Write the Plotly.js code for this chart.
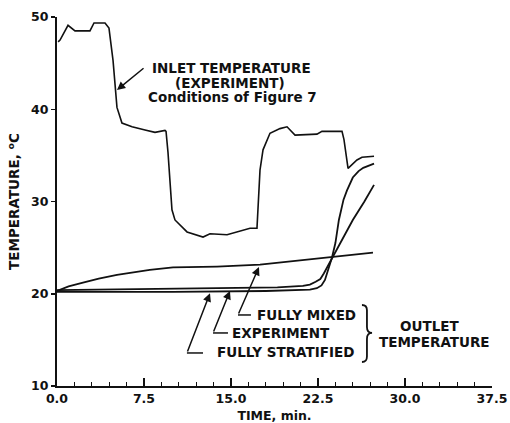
<!DOCTYPE html>
<html>
<head>
<meta charset="utf-8">
<script src="https://cdn.plot.ly/plotly-3.0.1.min.js"></script>
<style>html,body{margin:0;padding:0;background:#fff;}#chart{width:510px;height:423px;}</style>
</head>
<body>
<div id="chart"></div>
<script>
// Inlet temperature (experiment), time in min, temperature in °C
const inletTime = [0.1, 0.26, 0.95, 1.55, 2.84, 3.19, 4.14, 4.48, 4.83, 5.0, 5.17, 5.6, 6.47, 7.59, 8.45, 9.31, 9.4, 9.57, 9.91, 10.17, 10.86, 11.21, 12.59, 13.19, 14.66, 16.64, 17.24, 17.5, 17.76, 18.36, 19.22, 19.83, 20.52, 22.41, 22.84, 24.57, 24.74, 25.09, 25.86, 26.29, 27.33];
const inletTemp = [47.3, 47.5, 49.1, 48.5, 48.5, 49.35, 49.35, 48.8, 45.3, 42.4, 40.2, 38.5, 38.1, 37.75, 37.5, 37.7, 37.6, 35.3, 29.1, 28.0, 27.2, 26.7, 26.15, 26.5, 26.4, 27.1, 27.1, 33.4, 35.6, 37.4, 37.9, 38.1, 37.2, 37.3, 37.6, 37.6, 36.7, 33.6, 34.5, 34.8, 34.9];

// Outlet temperature, fully mixed model
const mixedTime = [0, 1.0, 2.24, 3.6, 5.17, 6.6, 8.0, 10.0, 13.79, 17.5, 20.5, 23.8, 27.24];
const mixedTemp = [20.3, 20.8, 21.2, 21.65, 22.05, 22.35, 22.6, 22.85, 22.95, 23.15, 23.55, 24.0, 24.45];

// Outlet temperature, experiment
const exptTime = [0, 7, 14, 19, 21.2, 21.8, 22.3, 22.7, 23.0, 23.3, 23.7, 24.5, 25.5, 26.5, 27.33];
const exptTemp = [20.4, 20.5, 20.6, 20.7, 20.85, 21.0, 21.3, 21.6, 22.2, 22.9, 23.9, 25.7, 28.0, 30.0, 31.8];

// Outlet temperature, fully stratified model
const stratTime = [0, 10, 18, 21.8, 22.4, 22.8, 23.1, 23.4, 23.7, 24.0, 24.3, 24.7, 25.0, 25.5, 26.0, 26.4, 27.33];
const stratTemp = [20.2, 20.2, 20.3, 20.45, 20.6, 20.9, 21.5, 22.6, 23.9, 25.5, 28.0, 30.2, 31.2, 32.6, 33.3, 33.65, 34.1];

const xTickVals = [0, 7.5, 15, 22.5, 30, 37.5];
const yTickVals = [10, 20, 30, 40, 50];

const FONT = "DejaVu Sans";
const blk = "#111";

function line(x, y, w) {
  return {x: x, y: y, type: "scatter", mode: "lines",
          line: {color: blk, width: w, shape: "linear"}, hoverinfo: "skip", showlegend: false};
}

const traces = [
  line(inletTime, inletTemp, 1.6),
  line(mixedTime, mixedTemp, 1.8),
  line(exptTime, exptTemp, 1.8),
  line(stratTime, stratTemp, 1.8)
];

function label(text, x, y, anchor) {
  return {text: text, x: x, y: y, xref: "x", yref: "y", showarrow: false,
          xanchor: anchor || "center", yanchor: "middle",
          font: {family: FONT, size: 13.5, color: blk, weight: "bold"}};
}
function arrow(hx, hy, tx, ty) {
  return {text: "", x: hx, y: hy, ax: tx, ay: ty, xref: "x", yref: "y", axref: "x", ayref: "y",
          showarrow: true, arrowhead: 2, arrowsize: 1.1, arrowwidth: 1.5, arrowcolor: blk, standoff: 0, startstandoff: 0};
}

const annotations = [
  label("INLET TEMPERATURE", 15.04, 44.47),
  label("(EXPERIMENT)", 14.91, 42.85),
  label("Conditions of Figure 7", 15.09, 41.33),
  label("FULLY MIXED", 17.07, 17.7, "left"),
  label("EXPERIMENT", 14.91, 15.75, "left"),
  label("FULLY STRATIFIED", 13.62, 13.69, "left"),
  label("OUTLET", 32.07, 16.5),
  label("TEMPERATURE", 32.5, 14.77),
  arrow(5.17, 42.09, 7.59, 44.58),
  arrow(17.41, 22.9, 15.6, 17.7),
  arrow(14.91, 20.3, 13.45, 15.75),
  arrow(13.19, 20.05, 11.2, 13.58)
];

function hook(x0, x1, y) {
  return {type: "line", xref: "x", yref: "y", x0: x0, x1: x1, y0: y, y1: y, line: {color: blk, width: 1.5}};
}
const shapes = [
  hook(15.6, 16.72, 17.7),
  hook(13.45, 14.74, 15.75),
  hook(11.2, 12.59, 13.58),
  {type: "path", xref: "x", yref: "y",
   path: "M 26.29,18.78 Q 26.72,18.78 26.72,18.2 L 26.72,16.4 Q 26.72,15.75 27.16,15.75 Q 26.72,15.75 26.72,15.1 L 26.72,13.2 Q 26.72,12.6 26.29,12.6",
   line: {color: blk, width: 1.8}}
];

const layout = {
  width: 510, height: 423,
  margin: {l: 57, r: 18, t: 17, b: 37},
  paper_bgcolor: "#fff", plot_bgcolor: "#fff",
  showlegend: false,
  xaxis: {
    range: [0, 37.5], tickvals: xTickVals, tickformat: ".1f",
    showgrid: false, zeroline: false, showline: true, linecolor: blk, linewidth: 2,
    ticks: "inside", ticklen: 8, tickwidth: 1.5, tickcolor: blk,
    minor: {dtick: 1.5, tick0: 0, ticks: "inside", ticklen: 4, tickwidth: 1.2, tickcolor: blk, showgrid: false},
    tickfont: {family: FONT, size: 12.5, color: blk, weight: "bold"},
    title: {text: "TIME, min.", font: {family: FONT, size: 12.5, color: blk, weight: "bold"}, standoff: 6},
    automargin: false, fixedrange: true
  },
  yaxis: {
    range: [10, 50], tickvals: yTickVals,
    showgrid: false, zeroline: false, showline: true, linecolor: blk, linewidth: 2,
    ticks: "outside", ticklen: 4, tickwidth: 1.5, tickcolor: blk,
    tickfont: {family: FONT, size: 12.5, color: blk, weight: "bold"},
    title: {text: "TEMPERATURE, <sup>o</sup>C", font: {family: FONT, size: 13.5, color: blk, weight: "bold"}, standoff: 8},
    automargin: false, fixedrange: true
  },
  annotations: annotations,
  shapes: shapes
};

Plotly.newPlot("chart", traces, layout, {staticPlot: true, displayModeBar: false});
</script>
</body>
</html>
